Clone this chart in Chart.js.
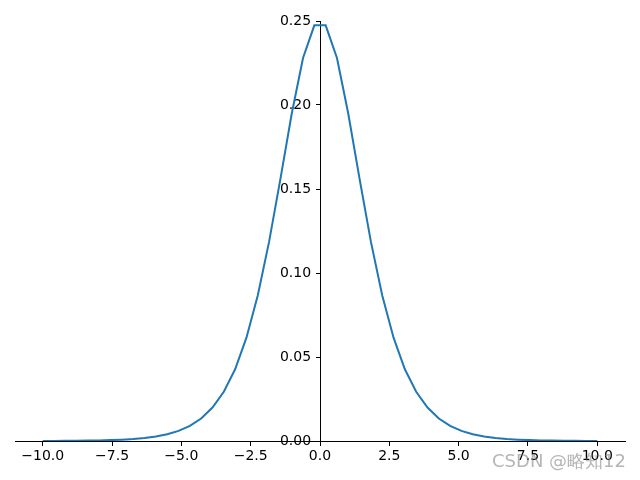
<!DOCTYPE html>
<html>
<head>
<meta charset="utf-8">
<script src="https://cdn.jsdelivr.net/npm/chart.js@4/dist/chart.umd.min.js"></script>
<style>
  html, body { margin: 0; padding: 0; background: #fff; }
  #wrap { width: 640px; height: 480px; }
</style>
</head>
<body>
<div id="wrap"><canvas id="chart" width="640" height="480"></canvas></div>
<script>
// sample points (50 evenly spaced x values)
const xValues = [
  -10.000, -9.592, -9.184, -8.776, -8.367, -7.959, -7.551, -7.143, -6.735, -6.327,
  -5.918, -5.510, -5.102, -4.694, -4.286, -3.878, -3.469, -3.061, -2.653, -2.245,
  -1.837, -1.429, -1.020, -0.612, -0.204, 0.204, 0.612, 1.020, 1.429, 1.837,
  2.245, 2.653, 3.061, 3.469, 3.878, 4.286, 4.694, 5.102, 5.510, 5.918,
  6.327, 6.735, 7.143, 7.551, 7.959, 8.367, 8.776, 9.184, 9.592, 10.000
];
const yValues = [
  0.0000454, 0.0000683, 0.000103, 0.000154, 0.000232, 0.000349, 0.000525, 0.000790, 0.00119, 0.00178,
  0.00268, 0.00401, 0.00601, 0.00898, 0.01339, 0.0199, 0.0293, 0.0427, 0.0615, 0.0866,
  0.1185, 0.1559, 0.1948, 0.2280, 0.2474, 0.2474, 0.2280, 0.1948, 0.1559, 0.1185,
  0.0866, 0.0615, 0.0427, 0.0293, 0.0199, 0.01339, 0.00898, 0.00601, 0.00401, 0.00268,
  0.00178, 0.00119, 0.000790, 0.000525, 0.000349, 0.000232, 0.000154, 0.000103, 0.0000683, 0.0000454
];
const xTicks = [-10, -7.5, -5, -2.5, 0, 2.5, 5, 7.5, 10];
const yTicks = [0, 0.05, 0.10, 0.15, 0.20, 0.25];
const watermark = 'CSDN @略知12';

const points = xValues.map((x, i) => ({ x, y: yValues[i] }));
const fmtX = (v) => v.toFixed(1).replace('-', '\u2212');

const watermarkPlugin = {
  id: 'watermark',
  afterDraw(chart) {
    const ctx = chart.ctx;
    ctx.save();
    ctx.font = '18px "DejaVu Sans", sans-serif';
    ctx.textAlign = 'right';
    ctx.textBaseline = 'middle';
    ctx.fillStyle = 'rgba(120, 120, 120, 0.55)';
    ctx.fillText(watermark, 626, 462);
    ctx.restore();
  },
};

const tickFont = { family: '"DejaVu Sans", sans-serif', size: 14 };

new Chart(document.getElementById('chart'), {
  type: 'line',
  data: {
    datasets: [{
      data: points,
      borderColor: '#1f77b4',
      backgroundColor: 'transparent',
      borderWidth: 2,
      pointRadius: 0,
      tension: 0,
    }],
  },
  options: {
    responsive: false,
    animation: false,
    layout: { padding: { left: 15, right: 15, top: 21, bottom: 39 } },
    plugins: { legend: { display: false }, tooltip: { enabled: false } },
    scales: {
      x: {
        type: 'linear',
        position: { y: 0 },
        min: -11,
        max: 11,
        afterBuildTicks: (scale) => { scale.ticks = xTicks.map((v) => ({ value: v })); },
        grid: { drawOnChartArea: false, drawTicks: true, tickLength: 4, color: '#000', lineWidth: 1 },
        border: { display: true, color: '#000', width: 1 },
        ticks: { color: '#000', font: tickFont, padding: 3, maxRotation: 0, callback: (v) => fmtX(v) },
      },
      y: {
        type: 'linear',
        position: { x: 0 },
        min: 0,
        max: 0.25,
        afterBuildTicks: (scale) => { scale.ticks = yTicks.map((v) => ({ value: v })); },
        grid: { drawOnChartArea: false, drawTicks: true, tickLength: 4, color: '#000', lineWidth: 1 },
        border: { display: true, color: '#000', width: 1 },
        ticks: { color: '#000', font: tickFont, callback: (v) => v.toFixed(2) + '  ' },
      },
    },
  },
  plugins: [watermarkPlugin],
});
</script>
</body>
</html>
